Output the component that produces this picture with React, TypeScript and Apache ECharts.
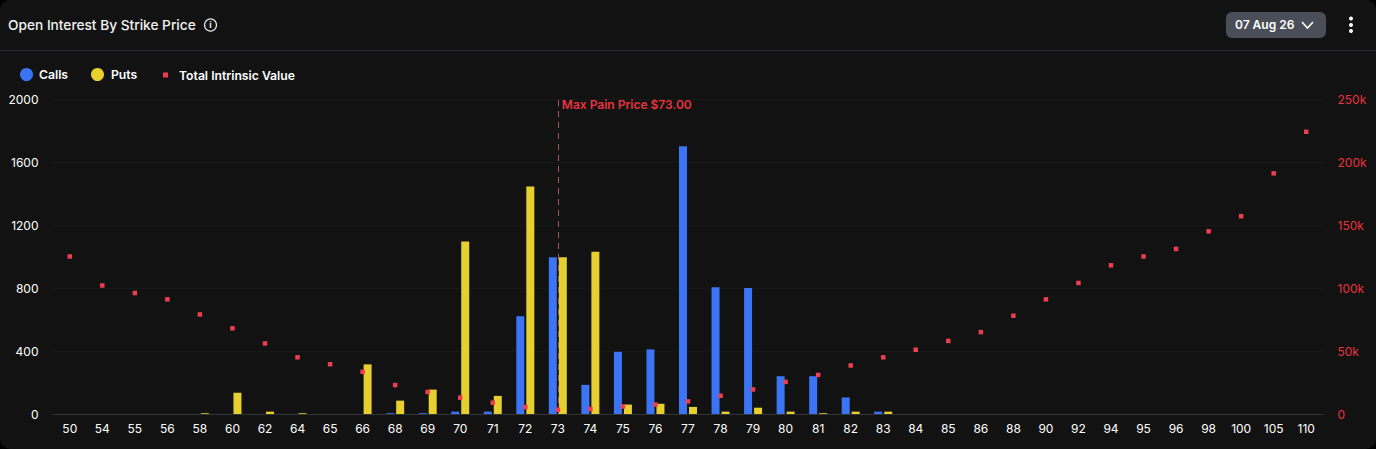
import React, { useEffect, useRef } from "react";
import * as echarts from "echarts";

const strikes = ["50","54","55","56","58","60","62","64","65","66","68","69","70","71","72","73","74","75","76","77","78","79","80","81","82","83","84","85","86","88","90","92","94","95","96","98","100","105","110"];
const calls = [null,null,null,null,null,null,null,null,null,null,5,5,15,15,620,995,185,395,410,1700,805,800,240,240,105,15,null,null,null,null,null,null,null,null,null,null,null,null,null];
const puts = [null,null,null,null,5,135,15,5,null,315,85,155,1095,115,1445,995,1030,60,65,45,15,40,15,5,15,15,null,null,null,null,null,null,null,null,null,null,null,null,null];
const intrinsic = [125000,102000,96000,91000,79000,68000,56000,45000,39500,33500,23000,17500,13000,9000,5500,3500,4000,6000,7500,10000,14500,19500,25500,31000,38500,45000,51000,58000,65000,78000,91000,104000,118000,125000,131000,145000,157000,191000,224000];

const FONT = "Inter, 'Noto Sans', sans-serif";
const BLUE = "#3b74f5";
const YELLOW = "#e6cf2e";
const RED = "#ee3d4f";

export default function App() {
  const ref = useRef<HTMLDivElement>(null);
  useEffect(() => {
    const chart = echarts.init(ref.current!, null, { renderer: "svg" });
    const legendText = { color: "#ffffff", fontFamily: FONT, fontSize: 12.2, fontWeight: 600 };
    chart.setOption({
      animation: false,
      backgroundColor: "transparent",
      grid: { left: 53.5, top: 99, width: 1269, height: 315 },
      legend: [
        { left: 20, top: 68, icon: "circle", itemWidth: 13, itemHeight: 13, padding: 0, data: ["Calls"], textStyle: { ...legendText, padding: [0, 0, 0, 1] }, selectedMode: false },
        { left: 91, top: 68, icon: "circle", itemWidth: 13, itemHeight: 13, padding: 0, data: ["Puts"], textStyle: { ...legendText, padding: [0, 0, 0, 2] }, selectedMode: false },
        { left: 163, top: 69, icon: "rect", itemWidth: 5, itemHeight: 5, padding: 0, data: ["Total Intrinsic Value"], textStyle: { ...legendText, padding: [0, 0, 0, 6], lineHeight: 6 }, selectedMode: false },
      ],
      xAxis: {
        type: "category",
        data: strikes,
        axisLine: { lineStyle: { color: "#333436", width: 1 } },
        axisTick: { show: false },
        axisLabel: { color: "#ffffff", fontFamily: FONT, fontSize: 12, margin: 8, interval: 0 },
      },
      yAxis: [
        {
          type: "value", min: 0, max: 2000, interval: 400,
          axisLabel: { color: "#ffffff", fontFamily: FONT, fontSize: 12, margin: 15, formatter: (v: number) => String(v) },
          axisLine: { show: false }, axisTick: { show: false },
          splitLine: { lineStyle: { color: "#181818" } },
        },
        {
          type: "value", min: 0, max: 250000, interval: 50000,
          axisLabel: { color: "#e8343f", fontFamily: FONT, fontSize: 12, margin: 15, formatter: (v: number) => (v === 0 ? "0" : v / 1000 + "k") },
          axisLine: { show: false }, axisTick: { show: false },
          splitLine: { show: false },
        },
      ],
      series: [
        { name: "Calls", type: "bar", data: calls, barWidth: 8, barGap: "25%", itemStyle: { color: BLUE } },
        { name: "Puts", type: "bar", data: puts, barWidth: 8, barGap: "25%", itemStyle: { color: YELLOW } },
        {
          name: "Total Intrinsic Value", type: "scatter", yAxisIndex: 1, data: intrinsic, symbol: "rect", symbolSize: 4.5, z: 10, itemStyle: { color: RED, opacity: 1 },
          markLine: {
            silent: true, symbol: "none", z: 5,
            lineStyle: { color: "#ad5560", type: [6, 5], width: 1, opacity: 1 },
            label: { show: true, position: "end", formatter: "Max Pain Price $73.00", color: "#e8343f", fontFamily: FONT, fontSize: 12, fontWeight: 600, align: "left", verticalAlign: "top", offset: [4, -1], distance: 0 },
            data: [{ xAxis: "73" }],
          },
        },
      ],
      graphic: [
        { type: "text", x: 8, y: 18, style: { text: "Open Interest By Strike Price", fill: "#f2f2f2", font: `500 13.7px ${FONT}` } },
        { type: "circle", shape: { cx: 210.5, cy: 25, r: 6 }, style: { fill: "none", stroke: "#e8e8e8", lineWidth: 1.2 } },
        { type: "text", x: 210.5, y: 20, style: { text: "i", fill: "#e8e8e8", align: "center", font: `700 9px ${FONT}` } },
        { type: "line", shape: { x1: 0, y1: 50.5, x2: 1376, y2: 50.5 }, style: { stroke: "#2a2a30", lineWidth: 1 } },
        { type: "rect", shape: { x: 1226, y: 12, width: 100, height: 26, r: 6 }, style: { fill: "#4a4e58" } },
        { type: "text", x: 1235, y: 18, style: { text: "07 Aug 26", fill: "#ffffff", font: `600 12px ${FONT}` } },
        { type: "polyline", shape: { points: [[1302, 22], [1307.5, 28], [1313, 22]] }, style: { fill: "none", stroke: "#ffffff", lineWidth: 1.6 } },
        { type: "circle", shape: { cx: 1351, cy: 18.5, r: 2 }, style: { fill: "#ffffff" } },
        { type: "circle", shape: { cx: 1351, cy: 25, r: 2 }, style: { fill: "#ffffff" } },
        { type: "circle", shape: { cx: 1351, cy: 31, r: 2 }, style: { fill: "#ffffff" } },
      ],
    });
    return () => chart.dispose();
  }, []);
  return (
    <div style={{ position: "fixed", left: 0, top: 0, width: 1376, height: 449, background: "#000" }}>
      <div ref={ref} style={{ width: 1376, height: 449, background: "#121212", borderRadius: 10 }} />
    </div>
  );
}
